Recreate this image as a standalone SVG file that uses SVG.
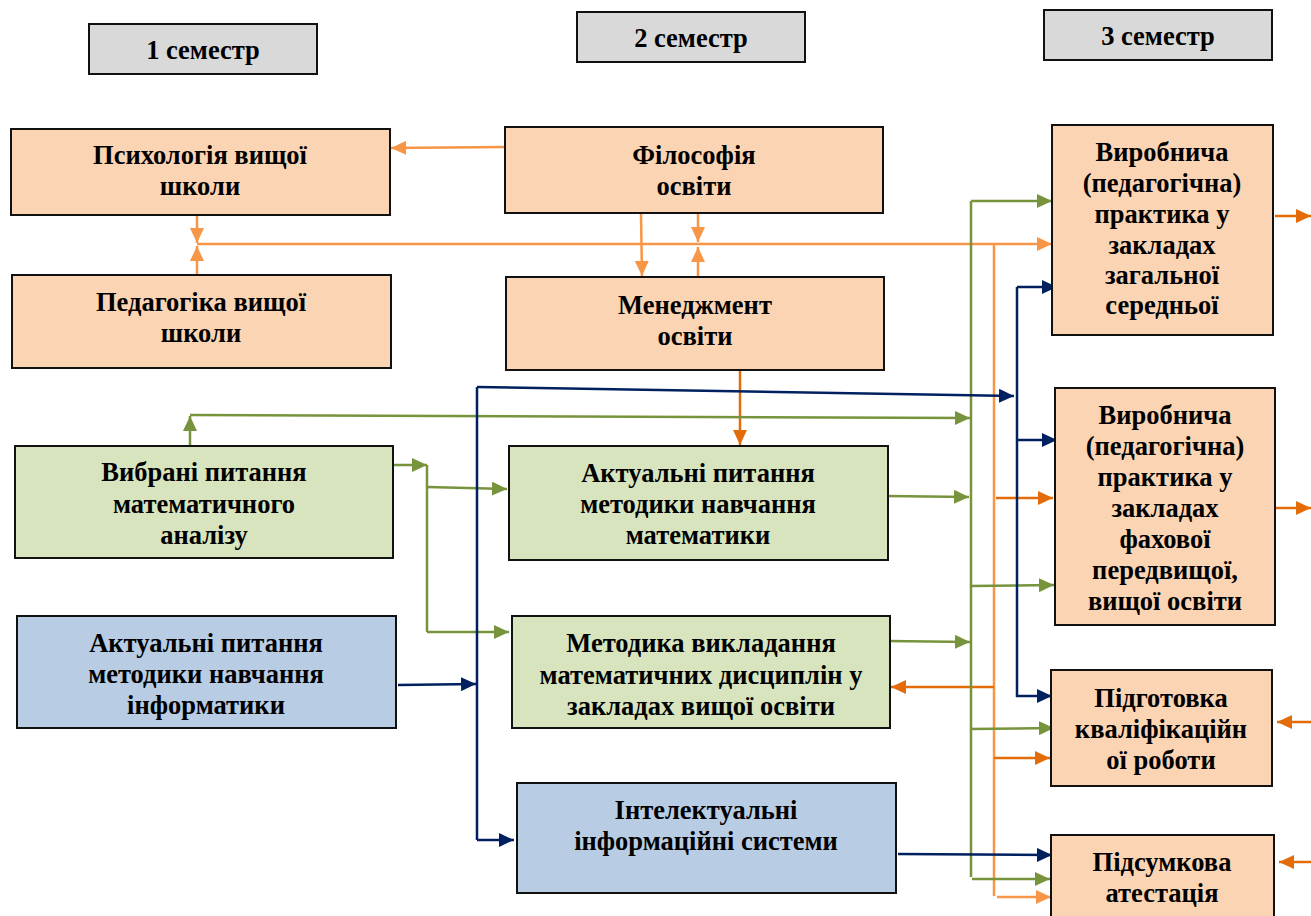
<svg xmlns="http://www.w3.org/2000/svg" width="1311" height="916" viewBox="0 0 1311 916">
<style>
.bx{stroke:#111;stroke-width:2}
.pe{fill:#FBD4B4}
.gr{fill:#D7E4BD}
.bl{fill:#B8CCE4}
.hd{fill:#D9D9D9}
text{font-family:"Liberation Serif","Times New Roman",serif;font-weight:bold;font-size:26.5px;fill:#000;text-anchor:middle}
.lo{stroke:#F79646;stroke-width:2.5;fill:none}
.do{stroke:#E36C09;stroke-width:2.5;fill:none}
.gn{stroke:#77933C;stroke-width:2.5;fill:none}
.nv{stroke:#002060;stroke-width:2.5;fill:none}
.lo.a{marker-end:url(#mlo)}
.do.a{marker-end:url(#mdo)}
.gn.a{marker-end:url(#mgn)}
.nv.a{marker-end:url(#mnv)}
</style>
<defs>
<marker id="mlo" markerUnits="userSpaceOnUse" markerWidth="16" markerHeight="14" refX="15" refY="7" orient="auto"><path d="M0,0 L15,7 L0,14 z" fill="#F79646"/></marker>
<marker id="mdo" markerUnits="userSpaceOnUse" markerWidth="16" markerHeight="14" refX="15" refY="7" orient="auto"><path d="M0,0 L15,7 L0,14 z" fill="#E36C09"/></marker>
<marker id="mgn" markerUnits="userSpaceOnUse" markerWidth="16" markerHeight="14" refX="15" refY="7" orient="auto"><path d="M0,0 L15,7 L0,14 z" fill="#77933C"/></marker>
<marker id="mnv" markerUnits="userSpaceOnUse" markerWidth="16" markerHeight="14" refX="15" refY="7" orient="auto"><path d="M0,0 L15,7 L0,14 z" fill="#002060"/></marker>
</defs>
<rect width="1311" height="916" fill="#fff"/>

<g id="connectors">
<!-- light orange -->
<line class="lo a" x1="505" y1="147" x2="391" y2="148"/>
<line class="lo a" x1="197" y1="216" x2="197" y2="243"/>
<line class="lo a" x1="197" y1="274" x2="197" y2="246"/>
<line class="lo a" x1="197" y1="244" x2="1052" y2="244"/>
<line class="lo a" x1="641" y1="214" x2="642" y2="276"/>
<line class="lo a" x1="698" y1="214" x2="698" y2="242"/>
<line class="lo a" x1="698" y1="276" x2="698" y2="247"/>
<line class="lo" x1="994" y1="244" x2="994" y2="896"/>
<line class="lo a" x1="997" y1="897" x2="1051" y2="897"/>
<!-- dark orange -->
<line class="do a" x1="740" y1="371" x2="740" y2="445"/>
<line class="do a" x1="996" y1="498" x2="1053" y2="498"/>
<line class="do a" x1="994" y1="687" x2="891" y2="687"/>
<line class="do a" x1="994" y1="758" x2="1050" y2="758"/>
<line class="do a" x1="1275" y1="216" x2="1311" y2="216"/>
<line class="do a" x1="1271" y1="508" x2="1311" y2="508"/>
<line class="do a" x1="1311" y1="722" x2="1277" y2="722"/>
<line class="do a" x1="1311" y1="862" x2="1279" y2="862"/>
<!-- green -->
<line class="gn a" x1="190" y1="445" x2="190" y2="416"/>
<line class="gn a" x1="190" y1="415" x2="970" y2="418"/>
<line class="gn a" x1="394" y1="465" x2="427" y2="465"/>
<line class="gn" x1="427" y1="465" x2="427" y2="632"/>
<line class="gn a" x1="427" y1="487" x2="507" y2="489"/>
<line class="gn a" x1="427" y1="632" x2="509" y2="632"/>
<line class="gn a" x1="886" y1="496" x2="969" y2="497"/>
<line class="gn a" x1="888" y1="641" x2="970" y2="642"/>
<line class="gn" x1="971" y1="201" x2="971" y2="877"/>
<line class="gn a" x1="971" y1="201" x2="1052" y2="201"/>
<line class="gn a" x1="970" y1="586" x2="1054" y2="585"/>
<line class="gn a" x1="970" y1="729" x2="1054" y2="728"/>
<line class="gn a" x1="972" y1="879" x2="1050" y2="879"/>
<!-- navy -->
<line class="nv a" x1="398" y1="685" x2="476" y2="684"/>
<line class="nv" x1="477" y1="387" x2="477" y2="840"/>
<line class="nv a" x1="477" y1="387" x2="1014" y2="396"/>
<line class="nv a" x1="477" y1="840" x2="514" y2="840"/>
<line class="nv" x1="1017" y1="287" x2="1017" y2="697"/>
<line class="nv a" x1="1017" y1="287" x2="1057" y2="287"/>
<line class="nv a" x1="1017" y1="440" x2="1057" y2="440"/>
<line class="nv a" x1="1016" y1="696" x2="1052" y2="696"/>
<line class="nv a" x1="898" y1="854" x2="1052" y2="855"/>
</g>

<g id="sem1"><rect class="bx hd" x="89" y="24" width="228" height="50"/><text x="203" y="59">1 семестр</text></g>
<g id="sem2"><rect class="bx hd" x="577" y="12" width="228" height="50"/><text x="691" y="47">2 семестр</text></g>
<g id="sem3"><rect class="bx hd" x="1044" y="10" width="228" height="50"/><text x="1158" y="45">3 семестр</text></g>

<g id="psych"><rect class="bx pe" x="11" y="129" width="379" height="86"/><text x="200" y="164">Психологія вищої</text><text x="200" y="195">школи</text></g>
<g id="philos"><rect class="bx pe" x="505" y="127" width="378" height="86"/><text x="694" y="164">Філософія</text><text x="694" y="195">освіти</text></g>
<g id="pedag"><rect class="bx pe" x="12" y="275" width="379" height="93"/><text x="201" y="311">Педагогіка вищої</text><text x="201" y="342">школи</text></g>
<g id="manag"><rect class="bx pe" x="506" y="277" width="378" height="93"/><text x="695" y="314">Менеджмент</text><text x="695" y="345">освіти</text></g>

<g id="practice1"><rect class="bx pe" x="1052" y="125" width="221" height="210"/>
<text x="1162" y="161">Виробнича</text><text x="1162" y="192">(педагогічна)</text><text x="1162" y="223">практика у</text><text x="1162" y="254">закладах</text><text x="1162" y="284">загальної</text><text x="1162" y="314">середньої</text></g>
<g id="practice2"><rect class="bx pe" x="1055" y="388" width="220" height="237"/>
<text x="1165" y="424">Виробнича</text><text x="1165" y="455">(педагогічна)</text><text x="1165" y="486">практика у</text><text x="1165" y="517">закладах</text><text x="1165" y="548">фахової</text><text x="1165" y="579">передвищої,</text><text x="1165" y="610">вищої освіти</text></g>

<g id="analysis"><rect class="bx gr" x="15" y="446" width="378" height="112"/><text x="204" y="481">Вибрані питання</text><text x="204" y="513">математичного</text><text x="204" y="544">аналізу</text></g>
<g id="methmath"><rect class="bx gr" x="509" y="446" width="379" height="114"/><text x="698" y="482">Актуальні питання</text><text x="698" y="513">методики навчання</text><text x="698" y="544">математики</text></g>
<g id="methinf"><rect class="bx bl" x="17" y="616" width="379" height="112"/><text x="206" y="652">Актуальні питання</text><text x="206" y="683">методики навчання</text><text x="206" y="714">інформатики</text></g>
<g id="methhigh"><rect class="bx gr" x="512" y="616" width="378" height="112"/><text x="701" y="652">Методика викладання</text><text x="701" y="684">математичних дисциплін у</text><text x="701" y="715">закладах вищої освіти</text></g>
<g id="intel"><rect class="bx bl" x="517" y="783" width="379" height="110"/><text x="706" y="819">Інтелектуальні</text><text x="706" y="850">інформаційні системи</text></g>

<g id="thesis"><rect class="bx pe" x="1051" y="670" width="221" height="116"/><text x="1161" y="707">Підготовка</text><text x="1161" y="738">кваліфікаційн</text><text x="1161" y="769">ої роботи</text></g>
<g id="final"><rect class="bx pe" x="1051" y="835" width="223" height="90"/><text x="1162" y="871">Підсумкова</text><text x="1162" y="902">атестація</text></g>
</svg>
